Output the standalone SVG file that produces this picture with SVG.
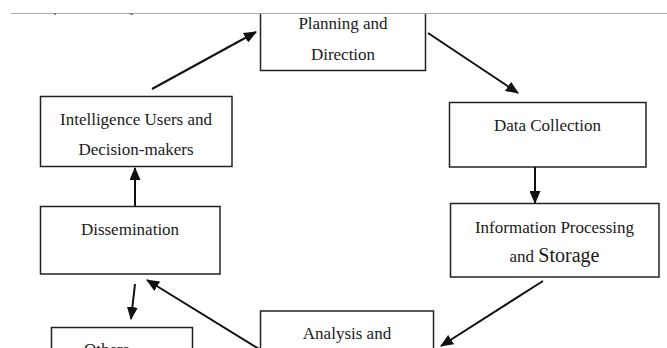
<svg xmlns="http://www.w3.org/2000/svg" width="667" height="348" viewBox="0 0 667 348">
  <style>
    .box { fill: #ffffff; stroke: #222222; stroke-width: 1.5; }
    .lbl { font-family: "Liberation Serif", "Times New Roman", serif; font-size: 17px; fill: #1a1a1a; text-anchor: middle; }
    .conn { stroke: #111111; stroke-width: 2; fill: none; marker-end: url(#head); }
  </style>
  <defs>
    <marker id="head" markerUnits="userSpaceOnUse" markerWidth="13" markerHeight="11" refX="12" refY="5.5" orient="auto">
      <path d="M0,0 L13,5.5 L0,11 z" fill="#111111"/>
    </marker>
  </defs>
  <rect width="667" height="348" fill="#ffffff"/>

  <!-- page rule at the top -->
  <line x1="11" y1="13.5" x2="667" y2="13.5" stroke="#a8a8a8" stroke-width="1"/>
  <rect x="54" y="13" width="2" height="2" fill="#888888"/>
  <rect x="130" y="13" width="3" height="2" fill="#888888"/>

  <g id="planning">
    <path class="box" d="M260.5,14 V70.5 H425.5 V14"/>
    <text class="lbl" x="343" y="29">Planning and</text>
    <text class="lbl" x="343" y="59.5">Direction</text>
  </g>

  <g id="data-collection">
    <rect class="box" x="449.5" y="102.5" width="196.5" height="64.5"/>
    <text class="lbl" x="547.5" y="130.5">Data Collection</text>
  </g>

  <g id="processing">
    <rect class="box" x="450.5" y="203.5" width="208.5" height="73.5"/>
    <text class="lbl" x="554.5" y="232.5">Information Processing</text>
    <text class="lbl" x="554.5" y="262">and <tspan font-size="20">Storage</tspan></text>
  </g>

  <g id="analysis">
    <rect class="box" x="260.5" y="311" width="173" height="50"/>
    <text class="lbl" x="347" y="339">Analysis and</text>
  </g>

  <g id="dissemination">
    <rect class="box" x="40.5" y="206.5" width="179.5" height="67.5"/>
    <text class="lbl" x="130" y="235">Dissemination</text>
  </g>

  <g id="others">
    <rect class="box" x="51.5" y="327.5" width="141" height="40"/>
    <text class="lbl" x="84" y="354.5" style="text-anchor:start">Others</text>
  </g>

  <g id="users">
    <rect class="box" x="40.5" y="96.5" width="191.5" height="70"/>
    <text class="lbl" x="136" y="125">Intelligence Users and</text>
    <text class="lbl" x="136" y="154.5">Decision-makers</text>
  </g>

  <g id="connectors">
    <line class="conn" x1="152" y1="89" x2="256" y2="32"/>
    <line class="conn" x1="428" y1="33" x2="518" y2="93"/>
    <line class="conn" x1="535" y1="167" x2="535" y2="203"/>
    <line class="conn" x1="543" y1="281" x2="441" y2="346"/>
    <line class="conn" x1="259" y1="349" x2="147" y2="280"/>
    <line class="conn" x1="135" y1="284" x2="131" y2="319"/>
    <line class="conn" x1="135" y1="206" x2="135" y2="168"/>
  </g>
</svg>
